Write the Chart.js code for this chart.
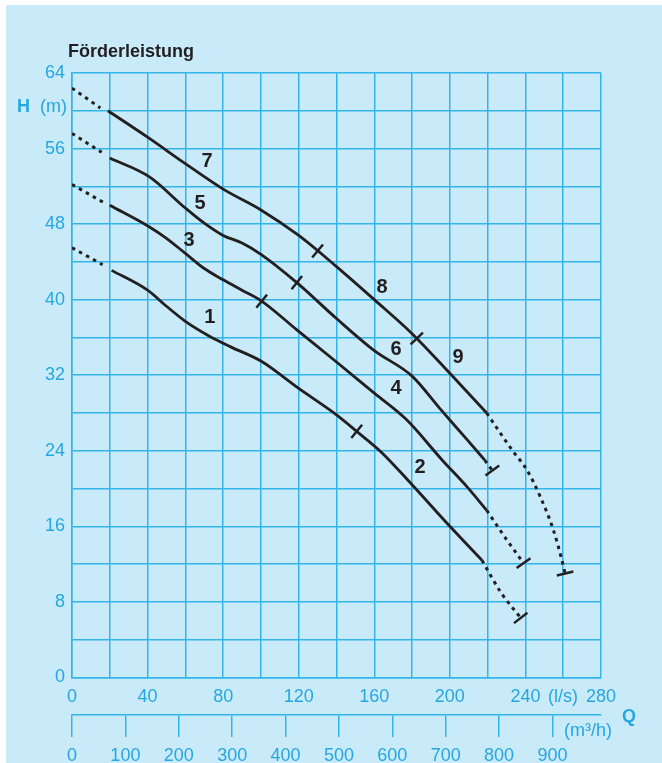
<!DOCTYPE html>
<html>
<head>
<meta charset="utf-8">
<script src="https://cdn.jsdelivr.net/npm/chart.js@4"></script>
<style>
  body { margin: 0; background: #fff; }
</style>
</head>
<body>
<canvas id="kennlinien" width="662" height="763"></canvas>
<script>
// Förderhöhe H (m) über Förderstrom Q (l/s), Kurven 1–9
const qA = [21, 40, 50, 60, 73, 84, 100, 120, 140, 151, 164, 180, 200, 217];
const hA = [43.1, 41.0, 39.3, 37.7, 36.1, 35.0, 33.5, 30.6, 27.8, 26.0, 23.8, 20.4, 16.0, 12.4];
const qB = [20, 41, 50, 60, 70, 80, 90, 100, 119, 140, 160, 177, 196, 209, 219.5];
const hB = [50.0, 47.7, 46.5, 44.9, 43.3, 42.1, 41.0, 39.9, 36.8, 33.4, 30.1, 27.3, 23.0, 20.2, 17.7];
const qC = [20, 41, 60, 70, 80, 90, 100, 119, 140, 160, 180, 195, 209, 218.5];
const hC = [55.0, 53.0, 49.7, 48.1, 46.8, 46.0, 44.8, 41.8, 38.0, 34.6, 31.9, 28.4, 25.2, 23.0];
const qD = [19, 40, 60, 80, 100, 120, 140, 160, 180, 200, 219.5];
const hD = [60.0, 57.2, 54.4, 51.7, 49.5, 46.8, 43.5, 40.0, 36.4, 32.2, 28.0];

// gestrichelte Verlängerungen
const qA0 = [0, 16.2], hA0 = [45.5, 43.7];
const qB0 = [0, 16.6], hB0 = [52.2, 50.3];
const qC0 = [0, 15.7], hC0 = [57.6, 55.6];
const qD0 = [0, 15.0], hD0 = [62.4, 60.3];
const qA1 = [217, 227, 237.5], hA1 = [12.4, 9.0, 6.3];
const qB1 = [219.5, 230, 239], hB1 = [17.7, 14.6, 12.1];
const qC1 = [218.5, 222.5], hC1 = [23.0, 21.9];
const qD1 = [219.5, 226.6, 233.6, 240.7, 247.7, 254.8, 259.2, 261], hD1 = [28.0, 25.9, 23.9, 22.0, 19.2, 15.6, 12.5, 11.0];

// Trennstriche zwischen den Kurvenabschnitten
const markA = [150.7];
const markB = [100.4];
const markC = [119];
const markD = [130, 182.5];

// Kurvennummern
const curveNames = ['1', '2', '3', '4', '5', '6', '7', '8', '9'];
const nameQ = [73, 184.2, 62, 171.5, 67.8, 171.5, 71.5, 164.1, 204.3];
const nameH = [38.1, 22.2, 46.3, 30.6, 50.2, 34.7, 54.6, 41.3, 33.9];

// zweite Achse in m³/h
const m3hTicks = [0, 100, 200, 300, 400, 500, 600, 700, 800, 900];

const BLUE = '#25a7e0';
const GRID = '#33b5ea';
const INK = '#231f20';
const FONT = '"Liberation Sans", Arial, sans-serif';

const pts = (q, h) => q.map((x, i) => ({ x, y: h[i] }));
const solid = (q, h, marks) => ({
  data: pts(q, h), markQ: marks, borderColor: INK, borderWidth: 2.8,
  pointRadius: 0, cubicInterpolationMode: 'monotone', fill: false
});
const dotted = (q, h, endMark) => ({
  data: pts(q, h), endMark, borderColor: INK, borderWidth: 3, borderDash: [3.5, 4.5],
  pointRadius: 0, cubicInterpolationMode: 'monotone', fill: false
});

function tick(c, x, y, dx, dy) {
  const len = Math.hypot(dx, dy);
  const nx = -dy / len * 8.5, ny = dx / len * 8.5;
  c.beginPath();
  c.moveTo(x - nx, y - ny);
  c.lineTo(x + nx, y + ny);
  c.stroke();
}

const decor = {
  id: 'decor',
  beforeDraw(chart) {
    const c = chart.ctx;
    c.save();
    c.fillStyle = '#c8eaf9';
    c.fillRect(6, 5, 656, 758);
    c.restore();
  },
  afterDatasetsDraw(chart) {
    const c = chart.ctx, xs = chart.scales.x, ys = chart.scales.y;
    c.save();
    c.strokeStyle = INK;
    c.lineWidth = 2.4;
    chart.data.datasets.forEach((ds, di) => {
      const p = chart.getDatasetMeta(di).data;
      (ds.markQ || []).forEach(q => {
        const px = xs.getPixelForValue(q);
        let i = 1;
        while (i < p.length - 1 && p[i].x < px) i++;
        const a = p[i - 1], b = p[i];
        const py = a.y + (px - a.x) / (b.x - a.x) * (b.y - a.y);
        tick(c, px, py, b.x - a.x, b.y - a.y);
      });
      if (ds.endMark) {
        const a = p[p.length - 2], b = p[p.length - 1];
        tick(c, b.x, b.y, b.x - a.x, b.y - a.y);
      }
    });

    c.fillStyle = INK;
    c.font = 'bold 20px ' + FONT;
    c.textAlign = 'center';
    c.textBaseline = 'middle';
    curveNames.forEach((n, i) => c.fillText(n, xs.getPixelForValue(nameQ[i]), ys.getPixelForValue(nameH[i])));

    c.textAlign = 'left';
    c.textBaseline = 'alphabetic';
    c.font = 'bold 18px ' + FONT;
    c.fillText('Förderleistung', 68, 57);

    c.fillStyle = BLUE;
    c.fillText('H', 17, 112);
    c.fillText('Q', 622, 722);
    c.font = '18px ' + FONT;
    c.fillText('(m)', 40, 112);
    c.textBaseline = 'middle';
    c.fillText('(l/s)', 548, 697);
    c.fillText('(m³/h)', 564, 731);
    c.restore();
  }
};

const tickFont = { family: FONT, size: 18 };

new Chart(document.getElementById('kennlinien'), {
  type: 'line',
  data: {
    datasets: [
      dotted(qA0, hA0), solid(qA, hA, markA), dotted(qA1, hA1, true),
      dotted(qB0, hB0), solid(qB, hB, markB), dotted(qB1, hB1, true),
      dotted(qC0, hC0), solid(qC, hC, markC), dotted(qC1, hC1, true),
      dotted(qD0, hD0), solid(qD, hD, markD), dotted(qD1, hD1, true)
    ]
  },
  options: {
    responsive: false,
    animation: false,
    events: [],
    layout: { padding: { top: 73, right: 61, left: 0, bottom: 0 } },
    plugins: { legend: { display: false }, tooltip: { enabled: false } },
    scales: {
      x: {
        type: 'linear', position: 'bottom', min: 0, max: 280, weight: 0,
        afterFit: s => { s.height = 37.6; },
        ticks: {
          stepSize: 20, autoSkip: false, maxRotation: 0, padding: 9, color: BLUE, font: tickFont,
          callback: v => (v % 40 === 0 ? v : '')
        },
        grid: { color: GRID, lineWidth: 1.5, drawTicks: false },
        border: { color: GRID, width: 1.5 }
      },
      x2: {
        type: 'linear', position: 'bottom', min: 0, max: 991, weight: 1,
        afterFit: s => { s.height = 48; },
        afterBuildTicks: s => { s.ticks = m3hTicks.map(v => ({ value: v })); },
        ticks: { autoSkip: false, maxRotation: 0, padding: 8, color: BLUE, font: tickFont, callback: v => v },
        grid: { drawOnChartArea: false, drawTicks: true, tickLength: 22, color: GRID, lineWidth: 1.5 },
        border: { color: GRID, width: 1.5 }
      },
      y: {
        min: 0, max: 64,
        afterFit: s => { s.width = 72; },
        ticks: {
          stepSize: 4, autoSkip: false, padding: 7, color: BLUE, font: tickFont,
          callback: v => (v % 8 === 0 ? v : '')
        },
        grid: { color: GRID, lineWidth: 1.5, drawTicks: false },
        border: { color: GRID, width: 1.5 }
      }
    }
  },
  plugins: [decor]
});
</script>
</body>
</html>
